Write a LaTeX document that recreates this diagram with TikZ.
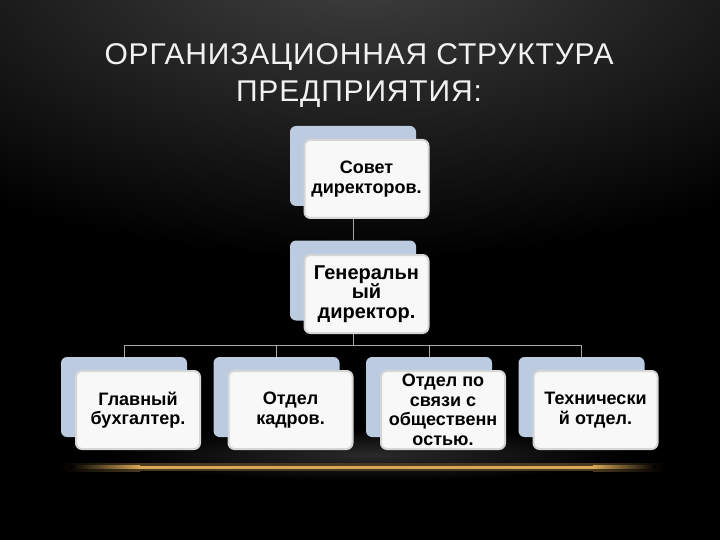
\documentclass[tikz,border=0pt]{standalone}
\usepackage{fontspec}
\setmainfont{Liberation Sans}
\newfontfamily\titlefont[LetterSpace=2.8]{Liberation Sans}
\definecolor{steelback}{HTML}{BCCBE0}
\definecolor{cardface}{HTML}{F8F8F8}
\definecolor{cardrim}{HTML}{D6D6D6}
\definecolor{wire}{HTML}{A8A8A8}
\definecolor{goldglow}{HTML}{D8A858}
\definecolor{goldhaze}{HTML}{4A3A20}
\definecolor{topgray}{HTML}{424242}
\definecolor{floorgray}{HTML}{2A2A2A}
\definecolor{titlewhite}{HTML}{F2F2F2}

\begin{document}
\begin{tikzpicture}[x=1pt, y=-1pt, thick]

\useasboundingbox (0,0) rectangle (720,540);
\fill[black] (0,0) rectangle (720,540);
\begin{scope}
\clip (0,0) rectangle (720,540);
\shade[inner color=topgray, outer color=black] (360,-40) ellipse [x radius=620pt, y radius=300pt];
\shade[inner color=floorgray, outer color=black] (370,455) ellipse [x radius=260pt, y radius=26pt];
\end{scope}

\shade[left color=black, right color=goldhaze] (60,463) rectangle (140,471);
\fill[goldhaze] (140,463) rectangle (593,471);
\shade[left color=goldhaze, right color=black] (593,463) rectangle (665,471);
\shade[left color=black, right color=goldglow] (70,465.5) rectangle (140,468.5);
\fill[goldglow] (140,465.5) rectangle (593,468.5);
\shade[left color=goldglow, right color=black] (593,465.5) rectangle (656,468.5);

\node[text=titlewhite, font=\titlefont\fontsize{30}{37}\selectfont, align=center] (title) at (359,76)
  {ОРГАНИЗАЦИОННАЯ СТРУКТУРА\\ПРЕДПРИЯТИЯ:};

\tikzstyle{back}=[rectangle, rounded corners=6pt, fill=steelback, draw=none,
  minimum width=126pt, minimum height=80pt, inner sep=0pt]
\tikzstyle{face}=[rectangle, rounded corners=6pt, fill=cardface, draw=cardrim, line width=2pt,
  minimum width=124pt, minimum height=78pt, inner sep=0pt, align=center, text=black,
  font=\fontsize{18}{19.5}\selectfont\bfseries]
\tikzstyle{wire}=[draw=wire, line width=0.8pt]

\draw    (353,   166)    node[back] (b0) {}
         (353,   280.5)  node[back] (b1) {}
         (124,   397)    node[back] (b2) {}
         (276.5, 397)    node[back] (b3) {}
         (429,   397)    node[back] (b4) {}
         (581.5, 397)    node[back] (b5) {};

\coordinate (bus) at (353,345);
\draw[wire] (b0.south) -- (b1.north);
\draw[wire] (b1.south) -- (bus) -| (b2.north);
\draw[wire] (b1.south) -- (bus) -| (b3.north);
\draw[wire] (b1.south) -- (bus) -| (b4.north);
\draw[wire] (b1.south) -- (bus) -| (b5.north);

\draw    (366.5, 179)    node[face] (w0) {Совет\\директоров.}
         (366.5, 294)    node[face, font=\fontsize{20}{19.5}\selectfont\bfseries] (w1) {Генеральн\\ый\\директор.}
         (138,   410)    node[face] (w2) {Главный\\бухгалтер.}
         (290.5, 410)    node[face] (w3) {Отдел\\кадров.}
         (443,   410)    node[face] (w4) {Отдел по\\связи с\\общественн\\остью.}
         (595.5, 410)    node[face] (w5) {Технически\\й отдел.};

\end{tikzpicture}
\end{document}
